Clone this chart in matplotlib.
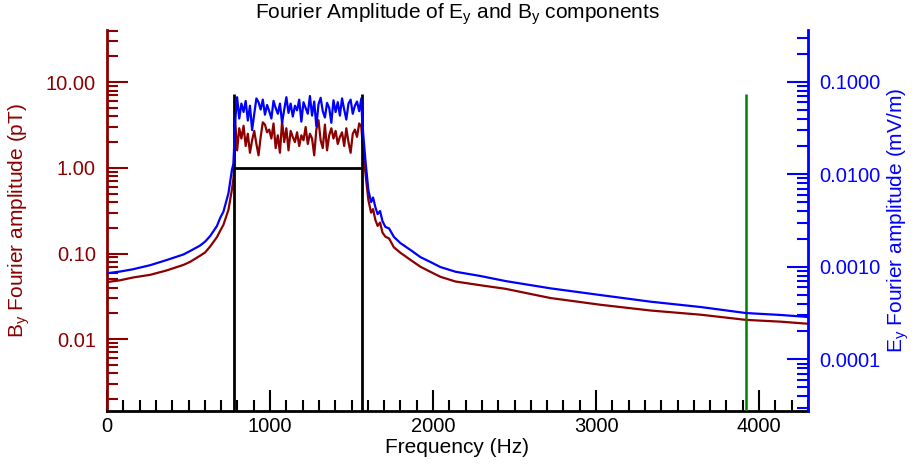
import numpy as np
import matplotlib
matplotlib.use("Agg")
import matplotlib.pyplot as plt
from matplotlib.ticker import LogLocator, MultipleLocator, FormatStrFormatter, NullFormatter

plt.rcParams['font.family'] = ['Liberation Sans', 'DejaVu Sans']
plt.rcParams['mathtext.default'] = 'regular'

RED = '#8b0000'
BLUE = '#0000ff'
GREEN = '#008000'

# spectrum below the band (Hz, pT, mV/m)
low_freq = [0, 80, 160, 265, 365, 470, 510, 570, 602, 633, 674, 694, 714, 745, 766, 776]
low_b = [0.0464, 0.0487, 0.0525, 0.0564, 0.0634, 0.0738, 0.080, 0.094, 0.103, 0.121,
         0.155, 0.184, 0.216, 0.324, 0.553, 0.764]
low_e = [0.00085, 0.000887, 0.00094, 0.00104, 0.00118, 0.00136, 0.00148, 0.00169,
         0.00187, 0.00215, 0.00275, 0.00336, 0.00393, 0.00622, 0.0111, 0.0131]

# noisy plateau inside the pass band
band_b = [3.9, 1.6, 2.9, 2.2, 3.1, 1.8, 2.5, 1.5, 2.1, 2.7, 1.9, 1.4, 2.3, 3.4, 3.2,
          2.6, 2.8, 2.2, 3.3, 1.7, 2.4, 1.5, 3.5, 2.0, 2.9, 1.6, 2.7, 2.3, 2.0, 2.6,
          1.8, 2.4, 2.1, 3.0, 1.9, 2.5, 2.2, 1.4, 2.8, 3.6, 2.1, 1.7, 3.2, 1.6, 2.4,
          2.9, 2.2, 2.7, 1.9, 2.3, 2.6, 1.8, 2.9, 2.0, 1.5, 2.5, 2.8, 2.3, 3.3, 3.0]
band_e = [0.035, 0.068, 0.040, 0.058, 0.047, 0.062, 0.038, 0.055, 0.030, 0.045,
          0.066, 0.060, 0.050, 0.064, 0.044, 0.056, 0.048, 0.040, 0.062, 0.052,
          0.045, 0.058, 0.036, 0.050, 0.068, 0.046, 0.058, 0.042, 0.055, 0.049,
          0.064, 0.037, 0.060, 0.052, 0.045, 0.070, 0.043, 0.061, 0.033, 0.057,
          0.067, 0.048, 0.041, 0.059, 0.052, 0.036, 0.063, 0.047, 0.060, 0.043,
          0.066, 0.050, 0.039, 0.058, 0.064, 0.045, 0.055, 0.061, 0.048, 0.066]
band_lo, band_hi = 785, 1560

# spectrum above the band
high_freq = [1566, 1585, 1603, 1620, 1632, 1646, 1660, 1675, 1690, 1708, 1730, 1760,
             1800, 1861, 1923, 1984, 2045, 2138, 2291, 2445, 2721, 3028, 3335, 3642,
             3919, 4134, 4306]
high_b = [2.12, 0.875, 0.423, 0.30, 0.33, 0.247, 0.21, 0.23, 0.175, 0.157, 0.15, 0.118,
          0.102, 0.0844, 0.070, 0.0611, 0.0535, 0.0471, 0.0426, 0.0387, 0.0302, 0.0252,
          0.0216, 0.0193, 0.0168, 0.0160, 0.0151]
high_e = [0.0358, 0.01425, 0.00675, 0.0050, 0.0056, 0.00442, 0.0037, 0.0040, 0.0031,
          0.00269, 0.0026, 0.0021, 0.00180, 0.00152, 0.00127, 0.001125, 0.000993,
          0.000883, 0.000794, 0.000700, 0.000584, 0.000494, 0.000419, 0.000367,
          0.000316, 0.000301, 0.000286]

band_edges = [782, 1565]
band_top = 7.3
band_level = 1.0
green_freq = 3920

band_freq = list(np.linspace(band_lo, band_hi, len(band_b)))
freq = low_freq + band_freq + high_freq
b_amp = low_b + band_b + high_b
e_amp = low_e + band_e + high_e

fig = plt.figure(figsize=(9.15, 4.65), dpi=100)
ax = fig.add_axes([107 / 915, 1 - 411 / 465, 701 / 915, 381 / 465])
ax2 = ax.twinx()

ax.plot(freq, b_amp, color=RED, lw=1.6)
ax2.plot(freq, e_amp, color=BLUE, lw=1.6)

ax.set_yscale('log')
ax.set_ylim(0.00145, 40.7)
ax2.set_yscale('log')
ax2.set_ylim(2.76e-5, 0.362)
ax.set_xlim(0, 4300)

ylo = ax.get_ylim()[0]
ax.vlines(band_edges, ylo, band_top, color='black', lw=2, zorder=3)
ax.hlines(band_level, band_edges[0], band_edges[1], color='black', lw=2, zorder=3)
ax.vlines([green_freq], ylo, band_top, color=GREEN, lw=1.8, zorder=3)

for s in ['top', 'right']:
    ax.spines[s].set_visible(False)
for s in ['top', 'left', 'bottom']:
    ax2.spines[s].set_visible(False)
ax.spines['left'].set_color(RED)
ax.spines['left'].set_linewidth(2)
ax.spines['bottom'].set_linewidth(2)
ax2.spines['right'].set_color(BLUE)
ax2.spines['right'].set_linewidth(2)

ax.xaxis.set_major_locator(MultipleLocator(1000))
ax.xaxis.set_minor_locator(MultipleLocator(100))
ax.tick_params(axis='x', which='both', direction='in', top=False, width=1.5,
               labelsize=14.5, pad=4)
ax.tick_params(axis='x', which='major', length=15)
ax.tick_params(axis='x', which='minor', length=8)

ax.yaxis.set_major_locator(LogLocator(base=10, numticks=10))
ax.yaxis.set_minor_locator(LogLocator(base=10, subs=np.arange(2, 10), numticks=10))
ax.yaxis.set_major_formatter(FormatStrFormatter('%.2f'))
ax.yaxis.set_minor_formatter(NullFormatter())
ax.tick_params(axis='y', which='both', direction='in', color=RED, labelcolor=RED,
               width=1.5, labelsize=14.5, pad=8)
ax.tick_params(axis='y', which='major', length=15)
ax.tick_params(axis='y', which='minor', length=8)

ax2.yaxis.set_major_locator(LogLocator(base=10, numticks=10))
ax2.yaxis.set_minor_locator(LogLocator(base=10, subs=np.arange(2, 10), numticks=10))
ax2.yaxis.set_major_formatter(FormatStrFormatter('%.4f'))
ax2.yaxis.set_minor_formatter(NullFormatter())
ax2.tick_params(axis='y', which='both', direction='in', color=BLUE, labelcolor=BLUE,
                width=1.5, labelsize=14.5, pad=8)
ax2.tick_params(axis='y', which='major', length=15)
ax2.tick_params(axis='y', which='minor', length=8)

ax.set_xlabel('Frequency (Hz)', fontsize=15, labelpad=2)
ax.set_ylabel('B$_y$ Fourier amplitude (pT)', fontsize=15, color=RED, labelpad=10)
ax2.set_ylabel('E$_y$ Fourier amplitude (mV/m)', fontsize=15, color=BLUE, labelpad=4)
ax.set_title('Fourier Amplitude of E$_y$ and B$_y$ components', fontsize=15, pad=8)

fig.savefig('out.png', dpi=100)
